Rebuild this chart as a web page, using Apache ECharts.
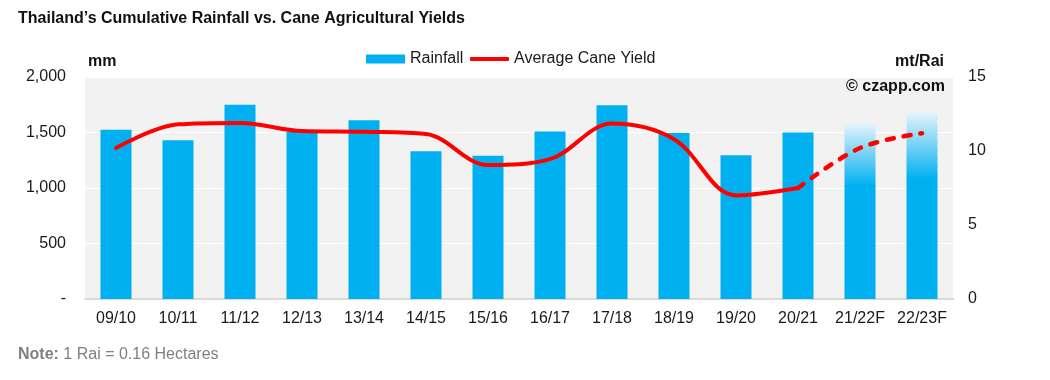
<!DOCTYPE html>
<html>
<head>
<meta charset="utf-8">
<style>html,body{margin:0;padding:0;background:#fff;}#c{width:1050px;height:380px;}</style>
<script src="https://cdn.jsdelivr.net/npm/echarts@6/dist/echarts.min.js"></script>
</head>
<body>
<div id="c"></div>
<script>
var categories = ['09/10','10/11','11/12','12/13','13/14','14/15','15/16','16/17','17/18','18/19','19/20','20/21','21/22F','22/23F'];
var rainfall = [1525, 1430, 1750, 1505, 1610, 1330, 1290, 1510, 1745, 1495, 1295, 1500, 1590, 1690];
var forecastFlags = [0,0,0,0,0,0,0,0,0,0,0,0,1,1];
var caneYield = [10.2, 11.8, 11.9, 11.35, 11.3, 11.15, 9.05, 9.45, 11.85, 10.8, 7.0, 7.5, 10.2, 11.2];
var forecastStart = 11;
var leftTicks = [0, 500, 1000, 1500, 2000];
var rightTicks = [0, 5, 10, 15];

var FONT = '"Liberation Sans", Arial, sans-serif';
var BLUE = '#00b0f0';

var barData = rainfall.map(function (v, i) {
  if (!forecastFlags[i]) return v;
  return {
    value: v,
    itemStyle: {
      color: {
        type: 'linear', x: 0, y: 0, x2: 0, y2: 1,
        colorStops: [
          {offset: 0, color: '#e9f5fb'},
          {offset: 0.36, color: BLUE},
          {offset: 1, color: BLUE}
        ]
      }
    }
  };
});
var solidYield = caneYield.map(function (v, i) { return i <= forecastStart ? v : null; });
var dashYield = caneYield.map(function (v, i) { return i >= forecastStart ? v : null; });

function fmtLeft(v) {
  if (v === 0) return '-';
  return String(v).replace(/\B(?=(\d{3})+(?!\d))/g, ',');
}

var chart = echarts.init(document.getElementById('c'), null, {renderer: 'canvas'});
chart.setOption({
  animation: false,
  textStyle: {fontFamily: FONT},
  grid: {left: 85, right: 97, top: 77, bottom: 81, show: true, backgroundColor: '#f2f2f2', borderWidth: 0},
  legend: [
    {
      data: [{name: 'Rainfall', icon: 'rect'}],
      left: 366, top: 51, itemWidth: 39, itemHeight: 9, padding: 0,
      selectedMode: false,
      textStyle: {fontSize: 16, color: '#1a1a1a', fontFamily: FONT}
    },
    {
      data: [{name: 'Average Cane Yield', icon: 'roundRect'}],
      left: 470, top: 51, itemWidth: 39, itemHeight: 4, padding: 0,
      selectedMode: false,
      textStyle: {fontSize: 16, color: '#1a1a1a', fontFamily: FONT}
    }
  ],
  xAxis: {
    type: 'category',
    data: categories,
    axisLine: {show: true, lineStyle: {color: '#d9d9d9', width: 2}},
    axisTick: {show: false},
    axisLabel: {fontSize: 16, color: '#1a1a1a', margin: 12, interval: 0, fontFamily: FONT},
    splitLine: {show: false}
  },
  yAxis: [
    {
      type: 'value', min: leftTicks[0], max: leftTicks[leftTicks.length - 1], interval: 500,
      axisLine: {show: false}, axisTick: {show: false},
      axisLabel: {fontSize: 16, color: '#1a1a1a', margin: 19, formatter: fmtLeft, fontFamily: FONT},
      splitLine: {show: true, lineStyle: {color: '#ffffff', width: 1}}
    },
    {
      type: 'value', min: rightTicks[0], max: rightTicks[rightTicks.length - 1], interval: 5,
      axisLine: {show: false}, axisTick: {show: false},
      axisLabel: {fontSize: 16, color: '#1a1a1a', margin: 15, fontFamily: FONT},
      splitLine: {show: false}
    }
  ],
  series: [
    {
      name: 'Rainfall', type: 'bar', yAxisIndex: 0, barWidth: '50%',
      itemStyle: {color: BLUE},
      data: barData
    },
    {
      name: 'Average Cane Yield', type: 'line', yAxisIndex: 1, smooth: 0.35,
      symbol: 'none', connectNulls: false,
      itemStyle: {color: '#ff0000'},
      lineStyle: {color: '#ff0000', width: 4, cap: 'round', join: 'round'},
      data: solidYield, z: 5
    },
    {
      name: 'Average Cane Yield F', type: 'line', yAxisIndex: 1, smooth: 0.35,
      symbol: 'none', connectNulls: false,
      itemStyle: {color: '#ff0000'},
      lineStyle: {color: '#ff0000', width: 4.5, type: [7, 10], cap: 'round', join: 'round'},
      data: dashYield, z: 5
    }
  ],
  graphic: [
    {type: 'text', left: 18, top: 11, style: {text: 'Thailand\u2019s Cumulative Rainfall vs. Cane Agricultural Yields', font: 'bold 16px ' + FONT, fill: '#111111'}},
    {type: 'text', x: 88, y: 62, style: {text: 'mm', font: 'bold 16px ' + FONT, fill: '#111111', verticalAlign: 'middle', align: 'left'}},
    {type: 'text', x: 944, y: 62, style: {text: 'mt/Rai', font: 'bold 16px ' + FONT, fill: '#111111', verticalAlign: 'middle', align: 'right'}},
    {type: 'text', x: 945, y: 87, z: 10, style: {text: '\u00a9 czapp.com', font: 'bold 16px ' + FONT, fill: '#111111', verticalAlign: 'middle', align: 'right'}},
    {type: 'text', x: 18, y: 355, style: {
      text: '{b|Note:} {r|1 Rai = 0.16 Hectares}', verticalAlign: 'middle', align: 'left',
      rich: {
        b: {font: 'bold 16px ' + FONT, fill: '#7f7f7f'},
        r: {font: '16px ' + FONT, fill: '#7f7f7f'}
      },
      font: '16px ' + FONT, fill: '#7f7f7f'
    }}
  ]
});
</script>
</body>
</html>
